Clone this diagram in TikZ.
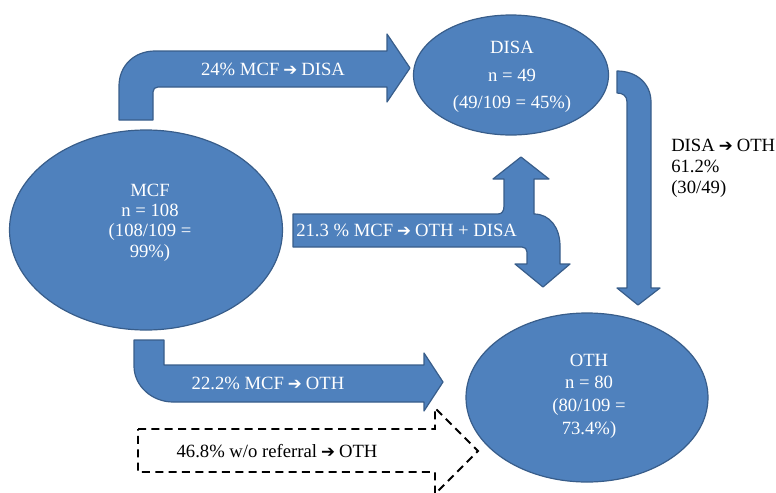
\documentclass[tikz,border=0pt]{standalone}
\usepackage{fontspec}
\setmainfont{Liberation Serif}
\newfontfamily\symfont{DejaVu Sans}
\usetikzlibrary{shapes.geometric}
\newcommand\rar{{\symfont\bfseries\fontsize{12.5}{12.5}\selectfont\kern-0.5pt ➔\kern-0.5pt}}
\definecolor{fillblue}{HTML}{4F81BD}
\definecolor{edgeblue}{HTML}{385D8A}
\begin{document}
\begin{tikzpicture}[x=0.75pt,y=-0.75pt,
  blockarrow/.style={fill=fillblue,draw=edgeblue,line width=0.9pt,line join=round},
  dasharrow/.style={draw=black,line width=1.4pt,dash pattern=on 6pt off 4pt},
  state/.style={ellipse,fill=fillblue,draw=edgeblue,line width=0.9pt,inner sep=0pt},
  wtext/.style={text=white,align=center,inner sep=0pt},
  btext/.style={text=black,align=left,inner sep=0pt}]
\useasboundingbox (0,0) rectangle (776,493);

% states
\node[state,minimum width=204.75pt,minimum height=150pt] (mcf) at (146,230) {};
\node[state,minimum width=146.25pt,minimum height=90pt] (disa) at (511,75) {};
\node[state,minimum width=181.5pt,minimum height=126.75pt] (oth) at (587,397.5) {};

\node[wtext,font=\fontsize{14}{15.2}\selectfont] (mcft) at (150,222.5) {MCF\\n = 108\\(108/109 =\\99\%)};
\node[wtext,font=\fontsize{14}{20.5}\selectfont] (disat) at (512,77) {DISA\\n = 49\\(49/109 = 45\%)};
\node[wtext,font=\fontsize{14}{17}\selectfont] (otht) at (589,396) {OTH\\n = 80\\(80/109 =\\73.4\%)};

% MCF -> DISA
\draw[blockarrow] (119,120) -- (119,86) .. controls (119,66) and (134,51) .. (155,51)
  -- (387,51) -- (387,34) -- (410,68) -- (387,102) -- (387,87) -- (158,87)
  .. controls (155,87) and (153,89) .. (153,92) -- (153,120) -- cycle;
\node[wtext,font=\fontsize{14}{15}\selectfont] (a1) at (273,69) {24\% MCF \rar{} DISA};

% MCF -> OTH + DISA
\draw[blockarrow] (293,214) -- (498,214) .. controls (502,214) and (504,211) .. (504,206)
  -- (504,179) -- (493,179) -- (521,157) -- (549,179) -- (534,179) -- (534,214)
  .. controls (550,214) and (560,228) .. (560,246) -- (560,264) -- (570,264)
  -- (543,287) -- (515,264) -- (527,264) -- (527,252)
  .. controls (527,249) and (525,247) .. (522,247) -- (293,247) -- cycle;
\node[wtext,font=\fontsize{14}{15}\selectfont,anchor=west] (a2) at (296,230.5) {21.3 \% MCF \rar{} OTH + DISA};

% DISA -> OTH
\draw[blockarrow] (617,71) .. controls (637,71) and (651,84) .. (651,102) -- (651,288)
  -- (660,288) -- (638,305) -- (617,288) -- (627,288) -- (627,102)
  .. controls (627,96) and (623,93) .. (617,93) -- cycle;
\node[btext,font=\fontsize{14}{15.6}\selectfont,anchor=north west] (a3) at (671,139) {DISA \rar{} OTH\\61.2\%\\(30/49)};

% MCF -> OTH
\draw[blockarrow] (134,340) -- (164,340) -- (164,365) -- (424,365) -- (424,353)
  -- (443,382) -- (424,411) -- (424,402) -- (173,402)
  .. controls (152,402) and (134,386) .. (134,366) -- cycle;
\node[wtext,font=\fontsize{14}{15}\selectfont] (a4) at (268,383) {22.2\% MCF \rar{} OTH};

% w/o referral -> OTH
\draw[dasharrow] (138,429) -- (435,429) -- (435,408) -- (478,451) -- (435,494)
  -- (435,472) -- (138,472) -- cycle;
\node[btext,font=\fontsize{14}{15}\selectfont] (a5) at (277,451) {46.8\% w/o referral \rar{} OTH};
\end{tikzpicture}
\end{document}
